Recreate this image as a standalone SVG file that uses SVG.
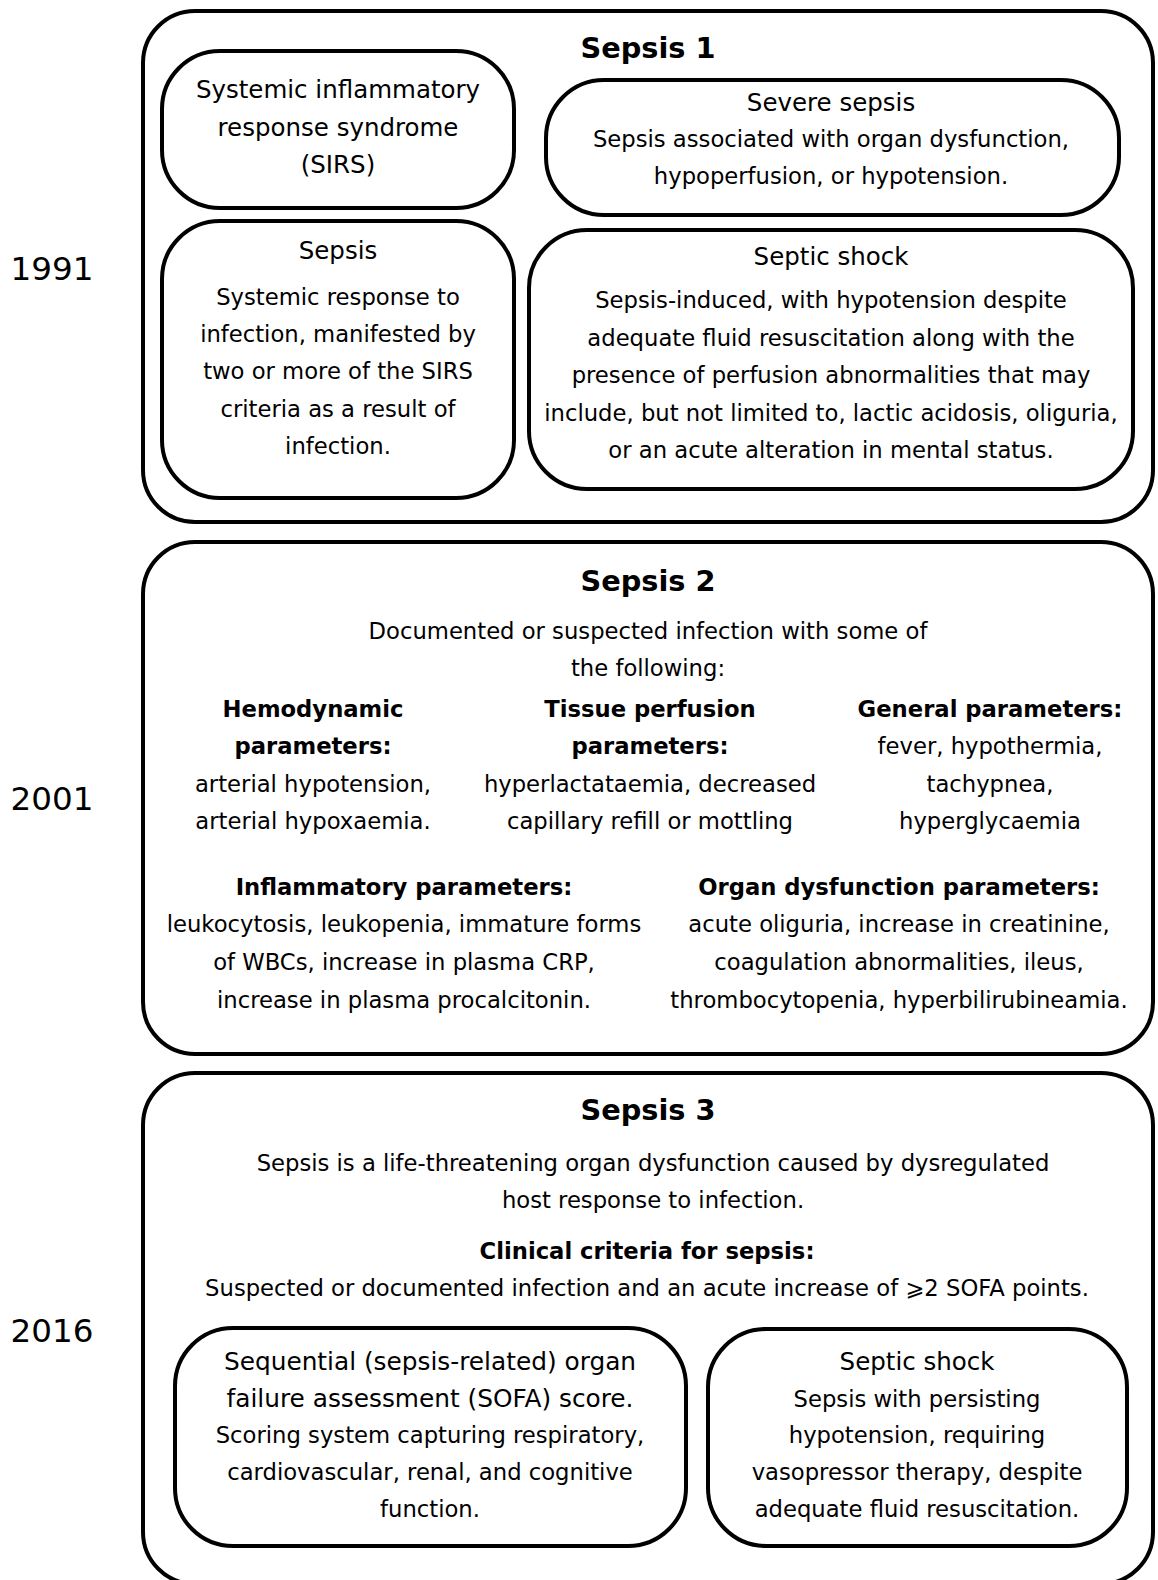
<svg xmlns="http://www.w3.org/2000/svg" width="1158" height="1580" viewBox="0 0 1158 1580">
<style>
.box{fill:#fff;stroke:#000;stroke-width:4}
.t{font-family:"DejaVu Sans","Liberation Sans",sans-serif;fill:#000;text-anchor:middle}
.n{font-size:24.5px}
.s{font-size:22.7px}
.b{font-size:22.7px;font-weight:bold}
.h{font-size:28.8px;font-weight:bold}
.y{font-size:32.6px}
</style>
<rect width="1158" height="1580" fill="#fff"/>
<g id="years">
<text class="t y" x="52" y="280">1991</text>
<text class="t y" x="52" y="810">2001</text>
<text class="t y" x="52" y="1342">2016</text>
</g>
<g id="sepsis1">
<rect class="box" x="143" y="11" width="1010" height="511" rx="52"/>
<text class="t h" x="648" y="58">Sepsis 1</text>
</g>
<g id="sirs">
<rect class="box" x="162" y="51" width="352" height="157" rx="58"/>
<text class="t n" x="338" y="98">Systemic inflammatory</text>
<text class="t n" x="338" y="136">response syndrome</text>
<text class="t n" x="338" y="172.5">(SIRS)</text>
</g>
<g id="severe-sepsis">
<rect class="box" x="546" y="80" width="573" height="135" rx="58"/>
<text class="t n" x="831" y="111">Severe sepsis</text>
<text class="t s" x="831" y="146.5">Sepsis associated with organ dysfunction,</text>
<text class="t s" x="831" y="184">hypoperfusion, or hypotension.</text>
</g>
<g id="sepsis-1991">
<rect class="box" x="162" y="221" width="352" height="277" rx="58"/>
<text class="t n" x="338" y="258.5">Sepsis</text>
<text class="t s" x="338" y="304.8">Systemic response to</text>
<text class="t s" x="338" y="342">infection, manifested by</text>
<text class="t s" x="338" y="379.4">two or more of the SIRS</text>
<text class="t s" x="338" y="416.7">criteria as a result of</text>
<text class="t s" x="338" y="454">infection.</text>
</g>
<g id="septic-shock-1991">
<rect class="box" x="529" y="230" width="604" height="259" rx="58"/>
<text class="t n" x="831" y="264.5">Septic shock</text>
<text class="t s" x="831" y="308">Sepsis-induced, with hypotension despite</text>
<text class="t s" x="831" y="345.5">adequate fluid resuscitation along with the</text>
<text class="t s" x="831" y="383">presence of perfusion abnormalities that may</text>
<text class="t s" x="831" y="420.5">include, but not limited to, lactic acidosis, oliguria,</text>
<text class="t s" x="831" y="458">or an acute alteration in mental status.</text>
</g>
<g id="sepsis2">
<rect class="box" x="143" y="542" width="1010" height="512" rx="52"/>
<text class="t h" x="648" y="591">Sepsis 2</text>
<text class="t s" x="648" y="639">Documented or suspected infection with some of</text>
<text class="t s" x="648" y="676">the following:</text>
<text class="t b" x="313" y="716.5">Hemodynamic</text>
<text class="t b" x="313" y="754">parameters:</text>
<text class="t s" x="313" y="791.5">arterial hypotension,</text>
<text class="t s" x="313" y="829">arterial hypoxaemia.</text>
<text class="t b" x="650" y="716.5">Tissue perfusion</text>
<text class="t b" x="650" y="754">parameters:</text>
<text class="t s" x="650" y="791.5">hyperlactataemia, decreased</text>
<text class="t s" x="650" y="829">capillary refill or mottling</text>
<text class="t b" x="990" y="716.5">General parameters:</text>
<text class="t s" x="990" y="754">fever, hypothermia,</text>
<text class="t s" x="990" y="791.5">tachypnea,</text>
<text class="t s" x="990" y="829">hyperglycaemia</text>
<text class="t b" x="404" y="895">Inflammatory parameters:</text>
<text class="t s" x="404" y="932">leukocytosis, leukopenia, immature forms</text>
<text class="t s" x="404" y="970">of WBCs, increase in plasma CRP,</text>
<text class="t s" x="404" y="1007.5">increase in plasma procalcitonin.</text>
<text class="t b" x="899" y="895">Organ dysfunction parameters:</text>
<text class="t s" x="899" y="932">acute oliguria, increase in creatinine,</text>
<text class="t s" x="899" y="970">coagulation abnormalities, ileus,</text>
<text class="t s" x="899" y="1007.5">thrombocytopenia, hyperbilirubineamia.</text>
</g>
<g id="sepsis3">
<rect class="box" x="143" y="1073" width="1010" height="511" rx="52"/>
<text class="t h" x="648" y="1120">Sepsis 3</text>
<text class="t s" x="653" y="1171">Sepsis is a life-threatening organ dysfunction caused by dysregulated</text>
<text class="t s" x="653" y="1208">host response to infection.</text>
<text class="t b" x="647" y="1258.5">Clinical criteria for sepsis:</text>
<text class="t s" x="647" y="1296">Suspected or documented infection and an acute increase of ⩾2 SOFA points.</text>
</g>
<g id="sofa">
<rect class="box" x="175" y="1328" width="511" height="218" rx="58"/>
<text class="t n" x="430" y="1370" style="font-size:24.8px">Sequential (sepsis-related) organ</text>
<text class="t n" x="430" y="1406.5" style="font-size:24.8px">failure assessment (SOFA) score.</text>
<text class="t s" x="430" y="1443">Scoring system capturing respiratory,</text>
<text class="t s" x="430" y="1480">cardiovascular, renal, and cognitive</text>
<text class="t s" x="430" y="1517">function.</text>
</g>
<g id="septic-shock-2016">
<rect class="box" x="708" y="1329" width="419" height="217" rx="58"/>
<text class="t n" x="917" y="1370">Septic shock</text>
<text class="t s" x="917" y="1406.5">Sepsis with persisting</text>
<text class="t s" x="917" y="1443">hypotension, requiring</text>
<text class="t s" x="917" y="1480">vasopressor therapy, despite</text>
<text class="t s" x="917" y="1517">adequate fluid resuscitation.</text>
</g>
<g id="connectors"></g>
</svg>
